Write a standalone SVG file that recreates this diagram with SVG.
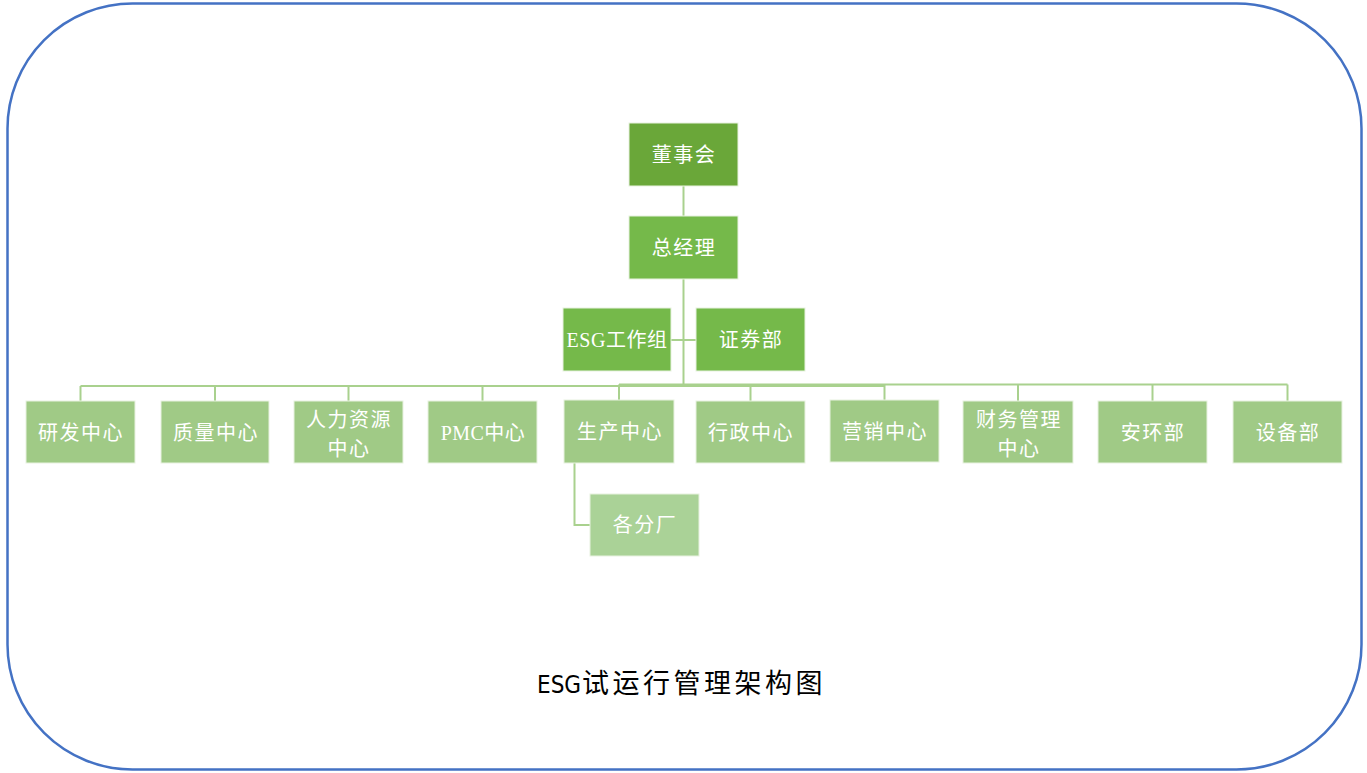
<svg xmlns="http://www.w3.org/2000/svg" width="1367" height="773" viewBox="0 0 1367 773">
<style>
.frame{fill:#ffffff;stroke:#4472C4;stroke-width:2.5}
.box{stroke:#e8f2e0;stroke-width:1}
.top{fill:#6AA739}
.mid{fill:#75B94A}
.dep{fill:#A0CA86}
.sub{fill:#AAD297}
.t{fill:#ffffff;font-family:"Liberation Serif","Noto Sans CJK SC",serif;font-size:20px;letter-spacing:1.5px;text-anchor:middle}
.title{fill:#000000;font-family:"Liberation Sans","Noto Sans CJK SC",sans-serif;font-size:27px}
.ln{fill:none;stroke:#A9D18E;stroke-width:2}
</style>
<rect class="frame" x="7.5" y="3.5" width="1354" height="766" rx="125" ry="125"/>
<g id="connectors">
<line class="ln" x1="683.5" y1="186" x2="683.5" y2="216"/>
<line class="ln" x1="683.5" y1="279" x2="683.5" y2="386"/>
<line class="ln" x1="671" y1="340" x2="696" y2="340"/>
<line class="ln" x1="80.5" y1="386" x2="884.5" y2="386"/>
<line class="ln" x1="619" y1="384.5" x2="1287.5" y2="384.5"/>
<line class="ln" x1="80.5" y1="386" x2="80.5" y2="401"/>
<line class="ln" x1="215" y1="386" x2="215" y2="401"/>
<line class="ln" x1="348.5" y1="386" x2="348.5" y2="401"/>
<line class="ln" x1="482.5" y1="386" x2="482.5" y2="401"/>
<line class="ln" x1="619" y1="384.5" x2="619" y2="400"/>
<line class="ln" x1="750.5" y1="384.5" x2="750.5" y2="401"/>
<line class="ln" x1="884.5" y1="384.5" x2="884.5" y2="400"/>
<line class="ln" x1="1018" y1="384.5" x2="1018" y2="401"/>
<line class="ln" x1="1152.5" y1="384.5" x2="1152.5" y2="401"/>
<line class="ln" x1="1287.5" y1="384.5" x2="1287.5" y2="401"/>
<polyline class="ln" points="574.5,463 574.5,525 590,525"/>
</g>
<g id="n-board"><rect class="box top" x="629" y="123" width="109" height="63"/><text class="t" x="684" y="162">董事会</text></g>
<g id="n-gm"><rect class="box mid" x="629" y="216" width="109" height="63"/><text class="t" x="684" y="255">总经理</text></g>
<g id="n-esg"><rect class="box mid" x="563" y="308" width="108" height="63"/><text class="t" x="617" y="347" style="letter-spacing:0.5px">ESG工作组</text></g>
<g id="n-sec"><rect class="box mid" x="696" y="308" width="109" height="63"/><text class="t" x="751" y="347">证券部</text></g>
<g id="n-rd"><rect class="box dep" x="26" y="401" width="109" height="62"/><text class="t" x="81" y="440">研发中心</text></g>
<g id="n-qa"><rect class="box dep" x="161" y="401" width="108" height="62"/><text class="t" x="216" y="440">质量中心</text></g>
<g id="n-hr"><rect class="box dep" x="294" y="401" width="109" height="62"/><text class="t" x="349" y="427">人力资源</text><text class="t" x="349" y="456">中心</text></g>
<g id="n-pmc"><rect class="box dep" x="428" y="401" width="109" height="62"/><text class="t" x="483" y="440" style="letter-spacing:0.5px">PMC中心</text></g>
<g id="n-prod"><rect class="box dep" x="564" y="400" width="110" height="63"/><text class="t" x="620" y="439">生产中心</text></g>
<g id="n-admin"><rect class="box dep" x="696" y="401" width="109" height="62"/><text class="t" x="751" y="440">行政中心</text></g>
<g id="n-mkt"><rect class="box dep" x="830" y="400" width="109" height="62"/><text class="t" x="885" y="439">营销中心</text></g>
<g id="n-fin"><rect class="box dep" x="963" y="401" width="110" height="62"/><text class="t" x="1019" y="427">财务管理</text><text class="t" x="1019" y="456">中心</text></g>
<g id="n-env"><rect class="box dep" x="1098" y="401" width="109" height="62"/><text class="t" x="1153" y="440">安环部</text></g>
<g id="n-eq"><rect class="box dep" x="1233" y="401" width="109" height="62"/><text class="t" x="1288" y="440">设备部</text></g>
<g id="n-fac"><rect class="box sub" x="590" y="494" width="109" height="62"/><text class="t" x="645" y="532">各分厂</text></g>
<text class="title" x="537" y="693"><tspan style="font-family:'Liberation Sans Narrow','DejaVu Sans Condensed','Liberation Sans',sans-serif;font-size:24px">ESG</tspan><tspan dx="1" style="letter-spacing:3.5px">试运行管理架构图</tspan></text>
</svg>
